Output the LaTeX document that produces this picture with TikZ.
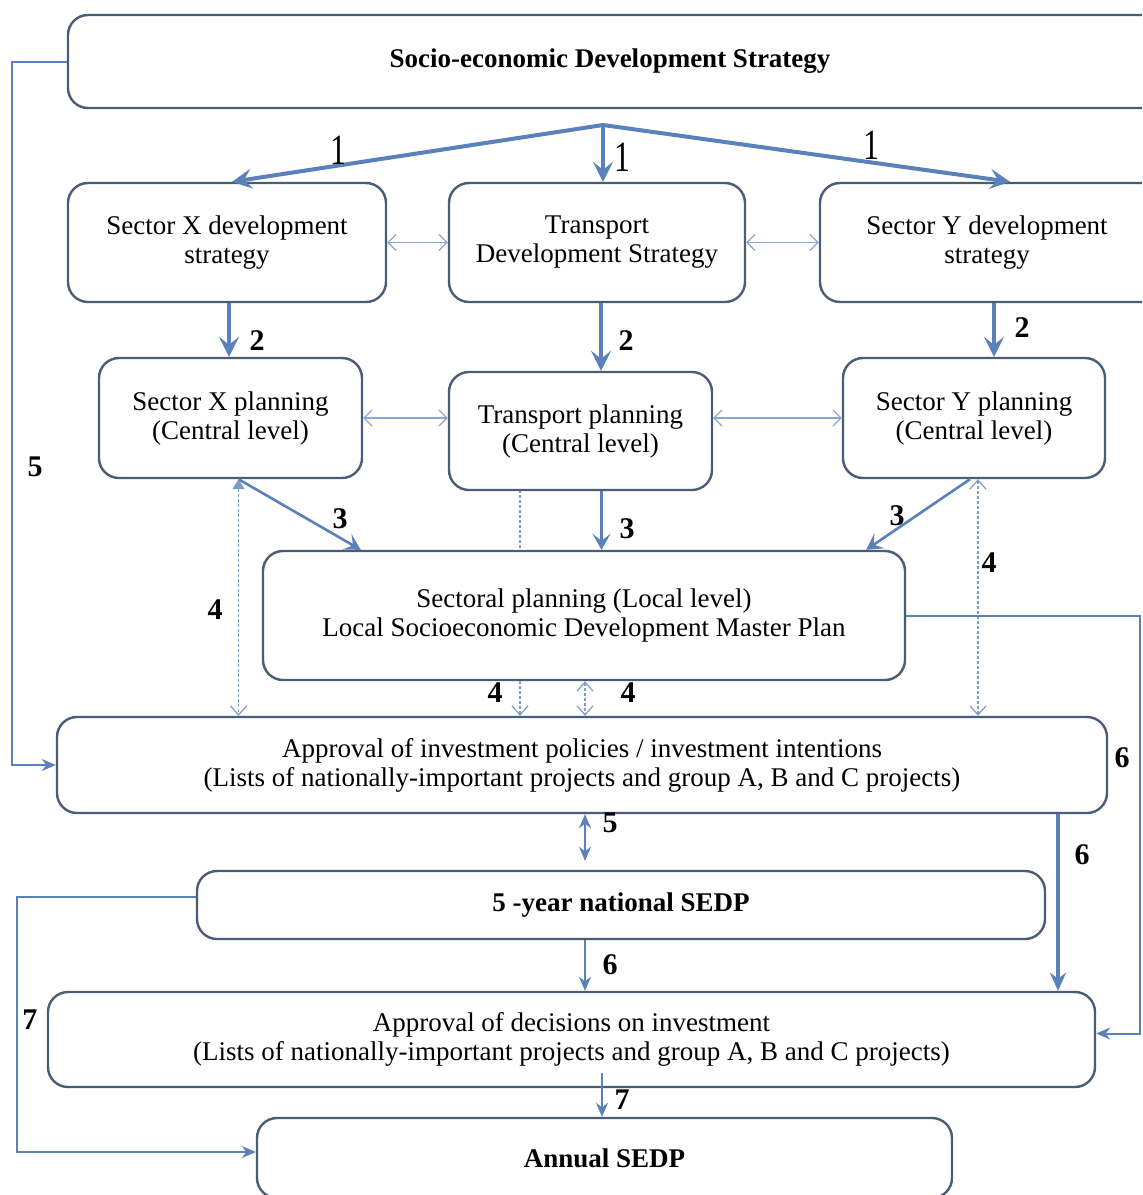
\documentclass[tikz,border=0pt]{standalone}
\usepackage{fontspec}
\setmainfont{Liberation Serif}
\usetikzlibrary{arrows.meta,calc}

\definecolor{boxline}{HTML}{4A5D75}
\definecolor{flow}{HTML}{5A81B9}
\definecolor{link}{HTML}{8EA8CC}
\definecolor{dots}{HTML}{7F9CC6}

\begin{document}
\begin{tikzpicture}[x=0.5pt,y=-0.5pt,
  box/.style={draw=boxline, line width=1.2pt, rounded corners=10pt, fill=white,
    inner sep=0pt, align=center, font=\fontsize{13.5}{14.5}\selectfont},
  bbox/.style={box, font=\fontsize{13.5}{14.5}\selectfont\bfseries},
  txt/.style={inner sep=0pt, align=center, font=\fontsize{13.5}{14.5}\selectfont},
  btxt/.style={txt, font=\fontsize{13.5}{14.5}\selectfont\bfseries},
  lab/.style={inner sep=0pt, font=\fontsize{15}{15}\selectfont\bfseries},
  one/.style={inner sep=0pt, font=\fontsize{16}{16}\selectfont},
  mainflow/.style={draw=flow, line width=2pt, -{Stealth[length=10pt,width=10pt,inset=4pt]}},
  subflow/.style={draw=flow, line width=1.3pt, -{Stealth[length=8pt,width=9pt,inset=3.5pt]}},
  elbow/.style={draw=flow, line width=1pt, -{Stealth[length=7pt,width=6pt]}},
  bigelbow/.style={draw=flow, line width=1.8pt, -{Stealth[length=9pt,width=8pt]}},
  twoway/.style={draw=link, line width=0.6pt, {Straight Barb[length=4pt,width=8pt]}-{Straight Barb[length=4pt,width=8pt]}},
  dotline/.style={draw=dots, line width=0.6pt, dash pattern=on 1.5pt off 1pt},
  vtip/.style={-{Straight Barb[length=4.5pt,width=8pt]}},
  vboth/.style={{Straight Barb[length=4.5pt,width=8pt]}-{Straight Barb[length=4.5pt,width=8pt]}},
]
\useasboundingbox (0,0) rectangle (1142,1195);
\clip (0,0) rectangle (1142,1195);
\fill[white] (0,0) rectangle (1142,1195);

% helper columns for vertical connectors
\coordinate (fork) at (603,125);
\coordinate (c4) at (520,0);
\coordinate (c5) at (585,0);
\coordinate (c6) at (1058,0);
\coordinate (c7) at (602,0);
\coordinate (l5) at (12,0);
\coordinate (r6) at (1140,0);
\coordinate (l7) at (17,0);

% dotted link behind the local planning box
\draw[dotline] (c4 |- 0,490) -- (c4 |- 0,551);

% boxes
\node[box, minimum width=551pt, minimum height=46.5pt] (ses) at (619,61.5) {};
\node[btxt] (sest) at (610,61) {Socio-economic Development Strategy};

\node[box, minimum width=159pt, minimum height=59.5pt] (sxd) at (227,242.5) {Sector X development\\strategy};
\node[box, minimum width=148pt, minimum height=59.5pt] (tds) at (597,242.5) {Transport\\Development Strategy};
\node[box, minimum width=175pt, minimum height=59.5pt] (sys) at (995,242.5) {};
\node[txt] (syst) at (987,242.5) {Sector Y development\\strategy};

\node[box, minimum width=131.5pt, minimum height=60pt] (sxp) at (230.5,418) {Sector X planning\\(Central level)};
\node[box, minimum width=131.5pt, minimum height=59pt] (tp) at (580.5,431) {Transport planning\\(Central level)};
\node[box, minimum width=131pt, minimum height=60pt] (syp) at (974,418) {Sector Y planning\\(Central level)};

\node[box, minimum width=321pt, minimum height=64.5pt] (slp) at (584,615.5) {Sectoral planning (Local level)\\Local Socioeconomic Development Master Plan};

\node[box, minimum width=525pt, minimum height=48pt] (aip) at (582,765) {Approval of investment policies / investment intentions\\(Lists of nationally-important projects and group A, B and C projects)};

\node[bbox, minimum width=424pt, minimum height=34pt] (fy) at (621,905) {5 -year national SEDP};

\node[box, minimum width=523.5pt, minimum height=47.5pt] (adi) at (571.5,1039.5) {Approval of decisions on investment\\(Lists of nationally-important projects and group A, B and C projects)};

\node[bbox, minimum width=347.5pt, minimum height=40pt] (as) at (604.5,1158) {Annual SEDP};

% 1: strategy to sector strategies
\draw[mainflow] (fork) -- ($(sxd.north)+(5,0)$);
\draw[mainflow] (fork) -- (fork |- tds.north);
\draw[mainflow] (fork) -- ($(sys.north)+(15,0)$);

% lateral exchanges
\draw[twoway] (sxd.east) -- (tds.west);
\draw[twoway] (tds.east) -- (sys.west);
\draw[twoway] (sxp.east) -- (tp.west |- sxp.east);
\draw[twoway] (tp.east |- syp.west) -- (syp.west);

% 2: strategies to central planning
\coordinate (s2a) at ($(sxd.south)+(2,0)$);
\coordinate (s2b) at ($(tds.south)+(4,0)$);
\coordinate (s2c) at ($(sys.south)+(-1,0)$);
\draw[mainflow] (s2a) -- (s2a |- sxp.north);
\draw[mainflow] (s2b) -- (s2b |- tp.north);
\draw[mainflow] (s2c) -- (s2c |- syp.north);

% 3: central planning to local planning
\coordinate (s3a) at ($(sxp.south)+(8,0)$);
\coordinate (s3b) at ($(tp.south)+(21,0)$);
\coordinate (s3c) at ($(syp.south)+(-4,0)$);
\draw[subflow] (s3a) -- ($(slp.north west)+(99,0)$);
\draw[subflow] (s3b) -- (s3b |- slp.north);
\draw[subflow] (s3c) -- ($(slp.north east)+(-40,0)$);

% 4: links to the approval of investment policies
\coordinate (s4a) at ($(sxp.south)+(8,0)$);
\coordinate (s4d) at ($(syp.south)+(4,0)$);
\draw[dotline, {Triangle[length=5pt,width=6pt]}-{Straight Barb[length=4.5pt,width=8pt]}]
  (s4a) -- (s4a |- aip.north);
\draw[dotline, vtip] (c4 |- slp.south) -- (c4 |- aip.north);
\draw[dotline, vboth] (c5 |- slp.south) -- (c5 |- aip.north);
\draw[dotline, vboth] (s4d) -- (s4d |- aip.north);

% 5
\draw[elbow] (ses.west) -- (ses.west -| l5) |- (aip.west);
\draw[draw=flow, line width=1pt, {Stealth[length=7pt,width=6pt]}-{Stealth[length=7pt,width=6pt]}]
  (c5 |- aip.south) -- ($(c5 |- fy.north)+(0,-9)$);

% 6
\draw[elbow] (slp.east) -- (slp.east -| r6) |- ($(adi.east)+(0,-6)$);
\draw[bigelbow] (c6 |- aip.south) -- (c6 |- adi.north);
\draw[elbow] (c5 |- fy.south) -- (c5 |- adi.north);

% 7
\draw[elbow] ($(fy.west)+(0,-8)$) -- ($(fy.west -| l7)+(0,-8)$) |- ($(as.west)+(0,-6)$);
\draw[elbow] ($(c7 |- adi.south)+(0,-15)$) -- (c7 |- as.north);

% step numbers
\node[one] (n1a) at (338,150) {\scalebox{1}[1.35]{1}};
\node[one] (n1b) at (622,157) {\scalebox{1}[1.35]{1}};
\node[one] (n1c) at (871,145) {\scalebox{1}[1.35]{1}};
\node[lab] (n2a) at (257,341) {2};
\node[lab] (n2b) at (626,341) {2};
\node[lab] (n2c) at (1022,328) {2};
\node[lab] (n3a) at (340,519) {3};
\node[lab] (n3b) at (627,529) {3};
\node[lab] (n3c) at (897,516) {3};
\node[lab] (n4a) at (215,610) {4};
\node[lab] (n4b) at (495,693) {4};
\node[lab] (n4c) at (628,693) {4};
\node[lab] (n4d) at (989,563) {4};
\node[lab] (n5a) at (35,467) {5};
\node[lab] (n5b) at (610,823) {5};
\node[lab] (n6a) at (1122,758) {6};
\node[lab] (n6b) at (1082,855) {6};
\node[lab] (n6c) at (610,965) {6};
\node[lab] (n7a) at (30,1020) {7};
\node[lab] (n7b) at (622,1100) {7};
\end{tikzpicture}
\end{document}
